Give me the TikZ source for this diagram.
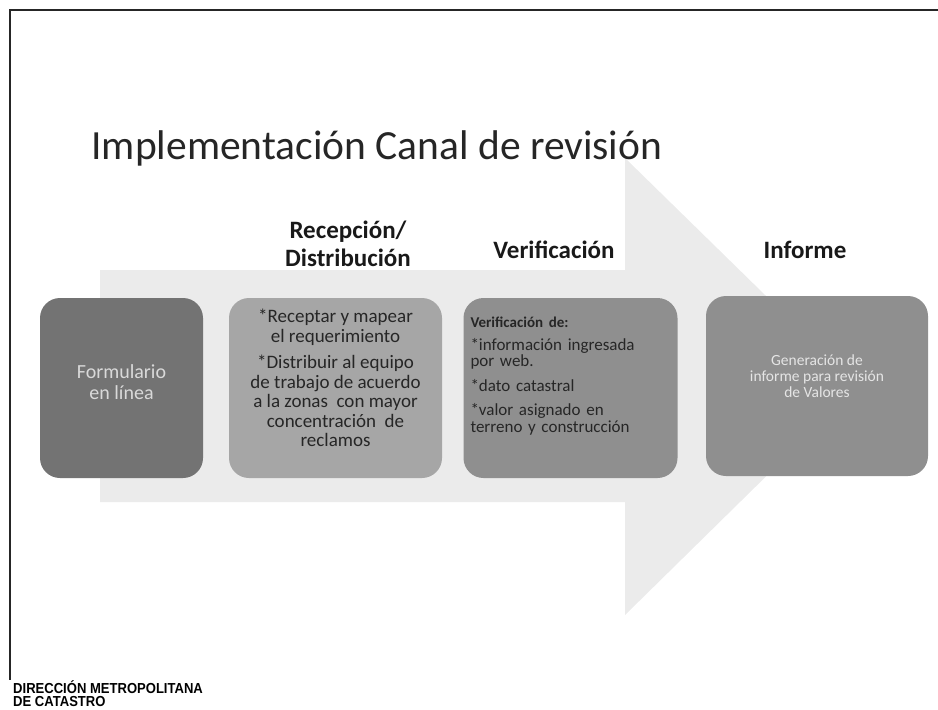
\documentclass[tikz,border=0pt]{standalone}
\usepackage{fontspec}
\setmainfont{Carlito}
\newfontfamily\footfont[FakeStretch=0.9]{Liberation Sans}

\definecolor{arrowgrey}{gray}{0.92}
\definecolor{darkbox}{gray}{0.45}
\definecolor{lightbox}{gray}{0.65}
\definecolor{midbox}{gray}{0.56}

\begin{document}
\begin{tikzpicture}[x=1pt, y=-1pt,
    box/.style       = {rounded corners=20pt, minimum height=180pt},
    boxtext/.style   = {inner sep=0pt, align=center},
    steptitle/.style = {font=\fontsize{25}{28}\selectfont\bfseries, align=center, text=black!90},
  ]
    \useasboundingbox (0,0) rectangle (938,710);
    % frame of the slide
    \draw[line width=1.6pt, black!85] (938,10) -- (10,10) -- (10,680);
    % coordinates for the arrow
    \coordinate (tailtop)     at (100,270);
    \coordinate (necktop)     at (625,270);
    \coordinate (headtop)     at (625,158);
    \coordinate (tip)         at (858,386);
    \coordinate (headbottom)  at (625,615);
    \coordinate (neckbottom)  at (625,502);
    \coordinate (tailbottom)  at (100,502);
    \fill[arrowgrey] (tailtop) -- (necktop) -- (headtop) -- (tip)
                     -- (headbottom) -- (neckbottom) -- (tailbottom) -- cycle;
    % title
    \node[anchor=west, font=\fontsize{41.5}{48}\selectfont, text=black!85] (title) at (88,148)
      {Implementación Canal de revisión};
    % the four boxes
    \node[box, fill=darkbox,  minimum width=163pt] (form)   at (121.5,388) {};
    \node[box, fill=lightbox, minimum width=213pt] (recep)  at (335.5,388) {};
    \node[box, fill=midbox,   minimum width=214pt] (verif)  at (570.5,388) {};
    \node[box, fill=midbox,   minimum width=222pt] (inform) at (817,386)   {};
    % texts in the boxes
    \node[boxtext, text=black!15, font=\fontsize{20}{21}\selectfont] (formtext)
      at ([yshift=6pt]form.center) {Formulario\\en línea};
    \node[boxtext, text=black!85, font=\fontsize{19}{19.5}\selectfont] (receptext)
      at ([yshift=10pt]recep.center)
      {*Receptar y mapear\\el requerimiento\\[7pt]
       *Distribuir al equipo\\de trabajo de acuerdo\\a la zonas\ \ con mayor\\
       concentración\ \ de\\reclamos};
    \node[boxtext, text width=200pt, align=left, text=black!85,
          font=\fontsize{17}{16.5}\selectfont] (veriftext) at ([yshift=12pt]verif.center)
      {{\fontsize{15}{16}\selectfont\bfseries Verificación de:}\\[6pt]
       *información ingresada\\por web.\\[8pt]
       *dato catastral\\[8pt]
       *valor asignado en\\terreno y construcción};
    \node[boxtext, text=black!10, font=\fontsize{15.5}{16}\selectfont] (informtext)
      at ([yshift=10pt]inform.center)
      {Generación de\\informe para revisión\\de Valores};
    % step titles
    \node[steptitle] (recepttl) at (348,244) {Recepción/\\Distribución};
    \node[steptitle] (verifttl) at (554,250) {Verificación};
    \node[steptitle] (informttl) at (805,250) {Informe};
    % footer
    \node[anchor=north west, align=left, inner sep=0pt, text=black,
          font=\footfont\fontsize{14.5}{13.5}\selectfont\bfseries] (footer) at (13,680)
      {DIRECCIÓN METROPOLITANA\\DE CATASTRO};
\end{tikzpicture}
\end{document}
